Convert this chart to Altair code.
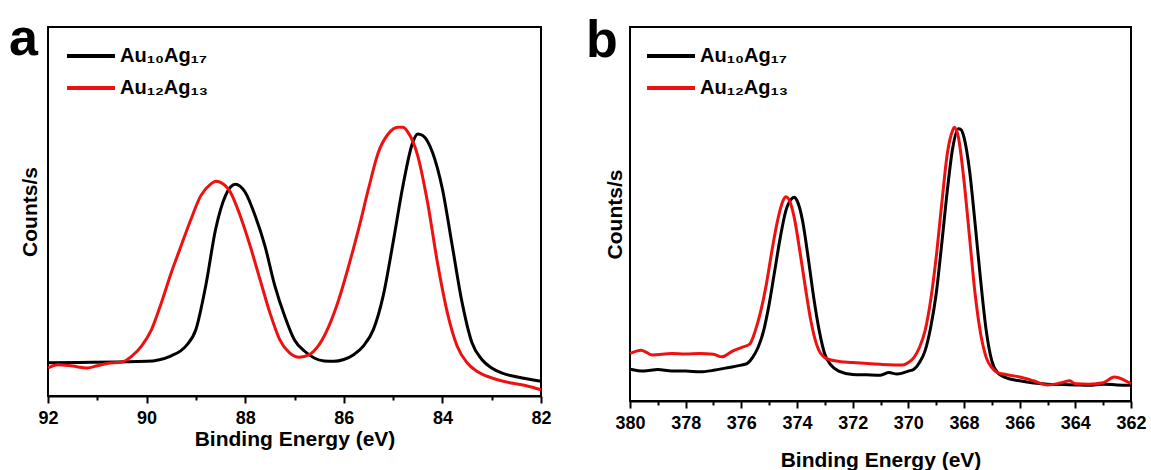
import altair as alt
import pandas as pd

S1 = "Au₁₀Ag₁₇"
S2 = "Au₁₂Ag₁₃"
FONT = "Liberation Sans"
RED = "#EE1111"

# ---- panel a : Au 4f ----
a_black_x = [92, 90.0, 89.5, 89.2, 89.0, 88.8, 88.6, 88.4, 88.2, 88.0, 87.8, 87.6, 87.4, 87.2, 87.0,
             86.8, 86.6, 86.4, 86.2, 86.0, 85.8, 85.6, 85.4, 85.2, 85.0, 84.8, 84.6, 84.5, 84.4, 84.2,
             84.0, 83.8, 83.6, 83.4, 83.2, 83.0, 82.8, 82.5, 82.0]
a_black_y = [9.0, 9.4, 10.9, 13.6, 18.0, 29.9, 45.2, 54.3, 57.4, 55.2, 48.9, 40.7, 29.9, 21.7, 15.2,
             12.2, 10.3, 9.5, 9.4, 9.9, 11.2, 13.6, 18.0, 27.2, 41.6, 57.0, 68.8, 71.0, 70.6, 66.0,
             56.1, 40.7, 25.3, 14.4, 9.9, 7.6, 6.25, 5.2, 4.0]
a_red_x = [92, 91.8, 91.5, 91.2, 91.0, 90.8, 90.5, 90.3, 90.1, 89.9, 89.7, 89.5, 89.3, 89.1, 88.9,
           88.7, 88.6, 88.5, 88.3, 88.1, 87.9, 87.7, 87.5, 87.3, 87.1, 86.9, 86.7, 86.5, 86.3, 86.1,
           85.9, 85.7, 85.5, 85.3, 85.1, 84.9, 84.8, 84.7, 84.5, 84.3, 84.1, 83.9, 83.7, 83.5, 83.3,
           83.0, 82.6, 82.3, 82.0]
a_red_y = [7.6, 8.5, 8.1, 7.6, 8.2, 8.8, 9.2, 10.8, 13.6, 18.0, 25.3, 33.4, 40.7, 47.9, 54.3,
           57.4, 58.2, 57.9, 55.2, 48.8, 40.7, 31.6, 22.6, 15.3, 11.7, 10.5, 11.2, 13.9, 19.0, 26.2,
           35.3, 45.2, 56.1, 66.0, 71.0, 72.8, 72.8, 71.5, 65.1, 52.4, 36.1, 22.6, 13.5, 9.0, 6.7,
           4.9, 3.5, 2.8, 1.7]

# ---- panel b : Ag 3d ----
b_black_x = [380, 379.5, 379, 378.5, 378, 377.5, 377, 376.5, 376, 375.8, 375.6, 375.4, 375.2, 375.0,
             374.8, 374.6, 374.4, 374.2, 374.1, 374.0, 373.8, 373.6, 373.4, 373.2, 373.0, 372.8,
             372.5, 372.0, 371.5, 371.0, 370.7, 370.4, 370.0, 369.8, 369.6, 369.4, 369.2, 369.0,
             368.8, 368.6, 368.4, 368.2, 368.1, 368.0, 367.8, 367.6, 367.4, 367.2, 367.0, 366.8,
             366.5, 366.0, 365.5, 365.0, 364.5, 364.0, 363.5, 363.0, 362.5, 362.0]
b_black_y = [8.5, 8.0, 8.4, 8.0, 8.0, 7.8, 8.2, 8.9, 9.6, 10.0, 11.6, 14.3, 18.75, 25.9,
             34.8, 43.75, 50.9, 54.0, 54.5, 53.6, 48.2, 38.4, 27.7, 18.75, 12.5, 9.8,
             8.0, 7.1, 7.0, 6.9, 7.6, 7.2, 8.0, 8.5, 10.3, 13.4, 19.6, 28.6,
             42.0, 56.25, 67.9, 72.8, 72.5, 70.5, 61.6, 47.3, 32.1, 18.75, 10.7, 7.6,
             6.25, 5.4, 4.8, 4.5, 4.4, 4.3, 4.2, 4.5, 4.3, 4.2]
b_red_x = [380, 379.6, 379.2, 378.5, 378.0, 377.5, 377.0, 376.7, 376.3, 376.0, 375.7, 375.5, 375.3,
           375.1, 374.9, 374.7, 374.5, 374.4, 374.3, 374.1, 373.9, 373.7, 373.5, 373.3, 373.0,
           372.6, 372.0, 371.0, 370.2, 370.0, 369.8, 369.6, 369.4, 369.2, 369.0, 368.8, 368.6,
           368.4, 368.35, 368.2, 368.0, 367.8, 367.6, 367.4, 367.2, 367.0, 366.8, 366.5, 366.0,
           365.5, 365.0, 364.5, 364.2, 364.0, 363.5, 363.0, 362.6, 362.3, 362.0]
b_red_y = [12.7, 13.6, 12.3, 12.7, 12.6, 12.7, 12.5, 11.8, 13.4, 14.3, 15.2, 18.75, 24.1,
           31.25, 40.2, 48.2, 53.6, 54.6, 54.0, 49.1, 40.2, 30.4, 21.4, 15.2, 11.6,
           10.7, 10.3, 9.8, 9.6, 10.3, 11.6, 14.3, 18.75, 26.8, 38.4, 52.7, 66.1,
           72.5, 73.2, 70.5, 58.9, 43.75, 28.6, 17.9, 11.6, 8.9, 7.6, 7.1, 6.4,
           5.4, 4.3, 4.9, 5.4, 4.6, 4.5, 4.9, 6.4, 5.8, 4.6]

a_ticks = list(range(82, 93))
b_ticks = list(range(362, 381))


def frame(bx, by, rx, ry):
    return pd.concat([
        pd.DataFrame({"energy": bx, "counts": by, "sample": S1}),
        pd.DataFrame({"energy": rx, "counts": ry, "sample": S2}),
    ])


def panel(df, letter, dom, ticks, w, h, title_y, ytitle_pad, lx, ly, tx, ty):
    lines = alt.Chart(df).mark_line(strokeWidth=3, interpolate="monotone").encode(
        x=alt.X("energy:Q",
                scale=alt.Scale(domain=dom, reverse=True, nice=False, zero=False),
                axis=alt.Axis(values=ticks, title="Binding Energy (eV)", grid=False,
                              labelExpr="datum.value % 2 === 0 ? datum.label : ''",
                              tickSize={"condition": {"test": "datum.value % 2 === 0", "value": 7}, "value": 4},
                              labelPadding=6, labelFlush=False, labelOverlap=False,
                              titleY=title_y, titleBaseline="alphabetic")),
        y=alt.Y("counts:Q", scale=alt.Scale(domain=[0, 100], nice=False),
                axis=alt.Axis(title="Counts/s", labels=False, ticks=False, domain=False,
                              grid=False, titlePadding=ytitle_pad)),
        color=alt.Color("sample:N",
                        scale=alt.Scale(domain=[S1, S2], range=["#000000", RED]),
                        legend=alt.Legend(orient="none", legendX=lx, legendY=ly, title=None,
                                          symbolType="M-3,0L3,0", symbolSize=256,
                                          symbolStrokeWidth=4, labelFont=FONT,
                                          labelFontSize=20, labelFontWeight="bold",
                                          labelColor="#000000", labelOffset=19,
                                          rowPadding=12, padding=0)),
    )
    lab = alt.Chart(pd.DataFrame({"t": [letter]})).mark_text(
        fontSize=52, fontWeight="bold", font=FONT, align="left", baseline="alphabetic",
        color="#000000").encode(text="t:N", x=alt.value(tx), y=alt.value(ty))
    return alt.layer(lines, lab).properties(width=w, height=h)


pa = panel(frame(a_black_x, a_black_y, a_red_x, a_red_y), "a", [82, 92], a_ticks,
           493, 369, 49, 8, 33, 19, -39, 28)
pb = panel(frame(b_black_x, b_black_y, b_red_x, b_red_y), "b", [362, 380], b_ticks,
           501, 374, 65, 5, 31, 19, -44, 30)

chart = alt.hconcat(pa, pb, spacing=32).resolve_scale(color="independent").properties(
    padding={"left": 8, "top": 12, "right": 0, "bottom": 0}
).configure_view(stroke="#000000", strokeWidth=2).configure_axis(
    labelFont=FONT, labelFontSize=18, labelFontWeight="bold", labelColor="#000000",
    titleFont=FONT, titleFontSize=21, titleFontWeight="bold", titleColor="#000000",
    domainColor="#000000", domainWidth=2, tickColor="#000000", tickWidth=2, grid=False
)

chart.save("out.html", embed_options={"renderer": "svg", "actions": False})
